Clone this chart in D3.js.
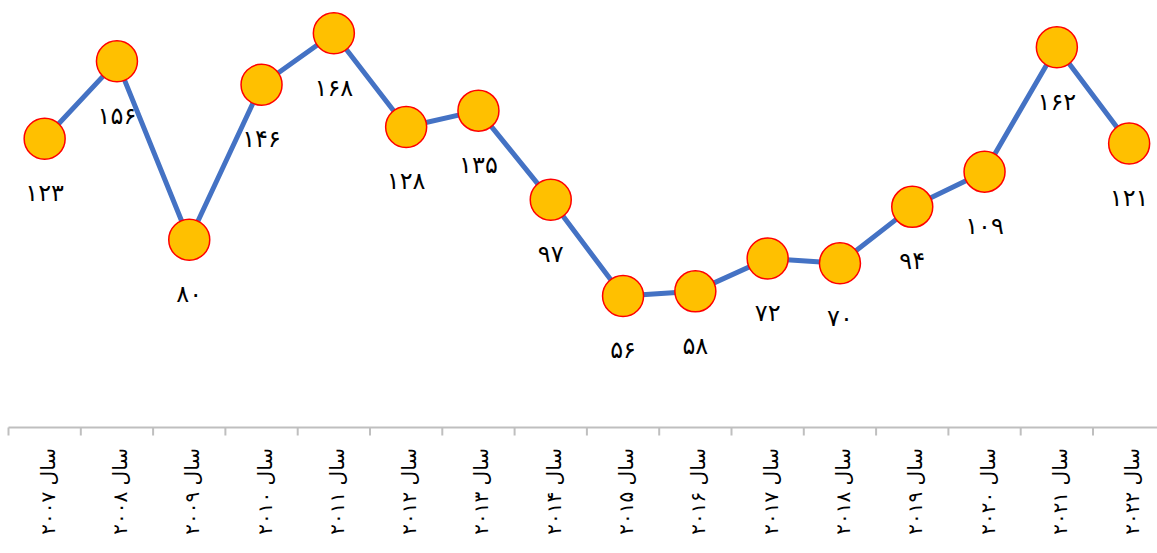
<!DOCTYPE html>
<html>
<head>
<meta charset="utf-8">
<script src="https://cdn.jsdelivr.net/npm/d3@7"></script>
<style>
  body { margin: 0; background: #fff; }
  svg text { font-family: "DejaVu Sans", sans-serif; }
</style>
</head>
<body>
<div id="chart"></div>
<script>
// years on the x axis and the value for each year
var years = ["۲۰۰۷", "۲۰۰۸", "۲۰۰۹", "۲۰۱۰", "۲۰۱۱", "۲۰۱۲", "۲۰۱۳", "۲۰۱۴",
             "۲۰۱۵", "۲۰۱۶", "۲۰۱۷", "۲۰۱۸", "۲۰۱۹", "۲۰۲۰", "۲۰۲۱", "۲۰۲۲"];
var values = [123, 156, 80, 146, 168, 128, 135, 97, 56, 58, 72, 70, 94, 109, 162, 121];

var w = 1157;
var h = 553;

var faDigits = "۰۱۲۳۴۵۶۷۸۹";
function toFa(n) {
  return String(n).replace(/\d/g, function(c) { return faDigits[+c]; });
}

var dataset = years.map(function(y, i) {
  return { year: "سال " + y, value: values[i] };
});

var svg = d3.select("#chart")
            .append("svg")
            .attr("width", w)
            .attr("height", h);

var x = d3.scaleBand()
          .domain(dataset.map(function(d) { return d.year; }))
          .range([8.5, 8.5 + 16 * 72.3]);

var y = d3.scaleLinear()
          .domain([0, 180])
          .range([427.5, 5]);

// x axis, gray line with ticks between categories
var axisG = svg.append("g").attr("transform", "translate(0," + 427.5 + ")");
axisG.append("line")
     .attr("x1", x.range()[0]).attr("x2", w)
     .attr("stroke", "#bfbfbf").attr("stroke-width", 2);
axisG.selectAll(".tick")
     .data(d3.range(17))
     .enter()
     .append("line")
     .attr("x1", function(i) { return x.range()[0] + i * x.step(); })
     .attr("x2", function(i) { return x.range()[0] + i * x.step(); })
     .attr("y1", 0).attr("y2", 8)
     .attr("stroke", "#bfbfbf").attr("stroke-width", 2);

svg.selectAll(".xlab")
   .data(dataset)
   .enter()
   .append("text")
   .attr("class", "xlab")
   .attr("transform", function(d) {
     return "translate(" + (x(d.year) + x.bandwidth() / 2 + 3) + ",448) rotate(-90)";
   })
   .attr("text-anchor", "end")
   .attr("dy", "0.35em")
   .attr("font-size", 20)
   .attr("fill", "#000")
   .text(function(d) { return d.year; });

var cx = function(d) { return x(d.year) + x.bandwidth() / 2; };

var line = d3.line()
             .x(cx)
             .y(function(d) { return y(d.value); });

svg.append("path")
   .datum(dataset)
   .attr("d", line)
   .attr("fill", "none")
   .attr("stroke", "#4472c4")
   .attr("stroke-width", 5)
   .attr("stroke-linejoin", "round");

svg.selectAll(".dot")
   .data(dataset)
   .enter()
   .append("circle")
   .attr("class", "dot")
   .attr("cx", cx)
   .attr("cy", function(d) { return y(d.value); })
   .attr("r", 20.5)
   .attr("fill", "#ffc000")
   .attr("stroke", "#ff0000")
   .attr("stroke-width", 1.5);

svg.selectAll(".lab")
   .data(dataset)
   .enter()
   .append("text")
   .attr("class", "lab")
   .attr("x", cx)
   .attr("y", function(d) { return y(d.value) + 54; })
   .attr("dy", "0.35em")
   .attr("text-anchor", "middle")
   .attr("font-size", 24)
   .attr("fill", "#000")
   .text(function(d) { return toFa(d.value); });
</script>
</body>
</html>
